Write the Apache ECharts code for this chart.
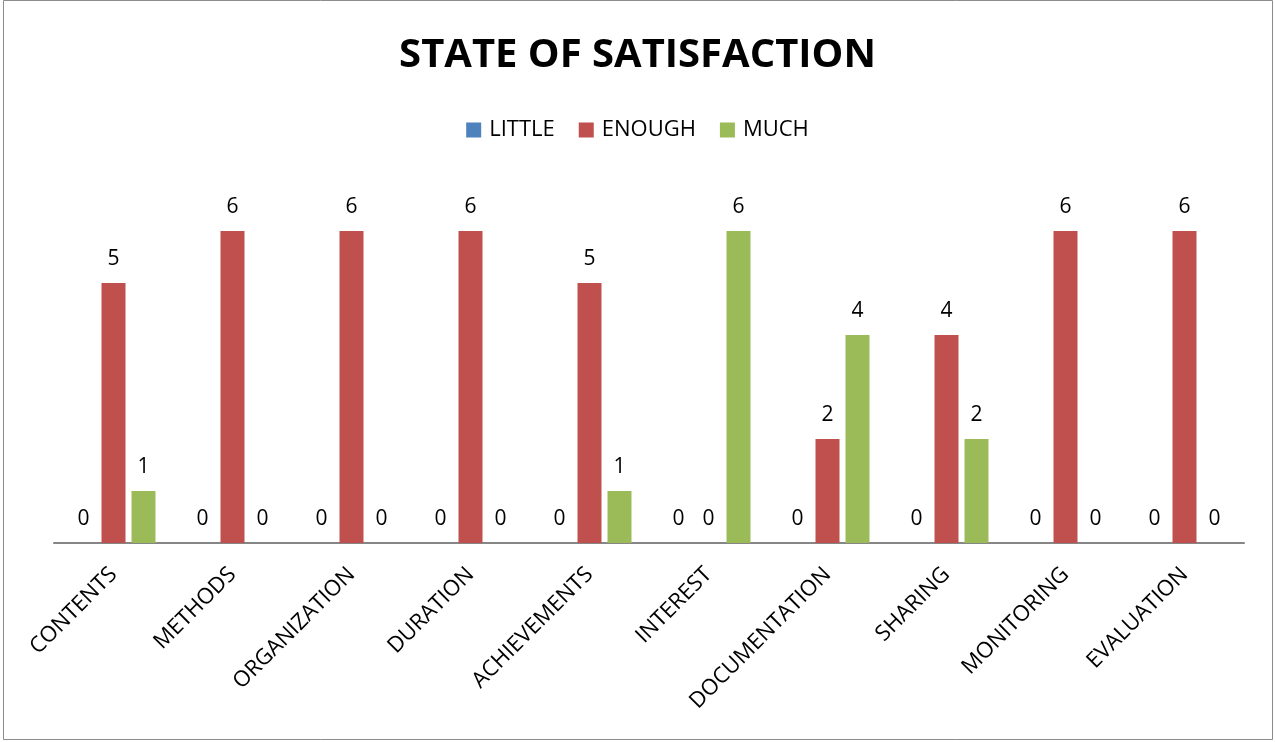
<!DOCTYPE html>
<html>
<head>
<meta charset="utf-8">
<script src="https://cdn.jsdelivr.net/npm/echarts@6/dist/echarts.min.js"></script>
<style>
  html, body { margin: 0; padding: 0; background: #fff; }
  #chart { width: 1275px; height: 742px; }
</style>
</head>
<body>
<div id="chart"></div>
<script>
var categories = ['CONTENTS', 'METHODS', 'ORGANIZATION', 'DURATION', 'ACHIEVEMENTS',
  'INTEREST', 'DOCUMENTATION', 'SHARING', 'MONITORING', 'EVALUATION'];
var little = [0, 0, 0, 0, 0, 0, 0, 0, 0, 0];
var enough = [5, 6, 6, 6, 5, 0, 2, 4, 6, 6];
var much = [1, 0, 0, 0, 1, 6, 4, 2, 0, 0];

var font = '"Open Sans", sans-serif';
var chart = echarts.init(document.getElementById('chart'));

function bar(name, data, color) {
  return {
    name: name,
    type: 'bar',
    data: data,
    barWidth: 24,
    barGap: '25%',
    itemStyle: { color: color },
    label: {
      show: true,
      position: 'top',
      distance: 13,
      color: '#000',
      fontFamily: font,
      fontSize: 21
    }
  };
}

chart.setOption({
  animation: false,
  textStyle: { fontFamily: font },
  title: {
    text: 'STATE OF SATISFACTION',
    left: 'center',
    top: 31,
    textStyle: { fontFamily: font, fontWeight: 'bold', fontSize: 40, color: '#000' }
  },
  legend: {
    top: 114,
    left: 'center',
    itemWidth: 15,
    itemHeight: 15,
    itemGap: 24,
    icon: 'rect',
    textStyle: { fontFamily: font, fontSize: 22, color: '#000', padding: [0, 0, 0, 3] },
    data: ['LITTLE', 'ENOUGH', 'MUCH']
  },
  grid: { left: 54, right: 31, top: 179, bottom: 199, containLabel: false },
  xAxis: {
    type: 'category',
    data: categories,
    axisLine: { lineStyle: { color: '#868686', width: 2 } },
    axisTick: { show: false },
    axisLabel: { rotate: 45, color: '#000', fontFamily: font, fontSize: 22, margin: 28, interval: 0 }
  },
  yAxis: {
    type: 'value',
    min: 0,
    max: 7,
    show: false,
    splitLine: { show: false }
  },
  series: [
    bar('LITTLE', little, '#4F81BD'),
    bar('ENOUGH', enough, '#C0504D'),
    bar('MUCH', much, '#9BBB59')
  ],
  graphic: [{
    type: 'rect',
    shape: { x: 3.5, y: 0.5, width: 1269, height: 739 },
    style: { fill: 'none', stroke: '#8c8c8c', lineWidth: 1 }
  }]
});
</script>
</body>
</html>
